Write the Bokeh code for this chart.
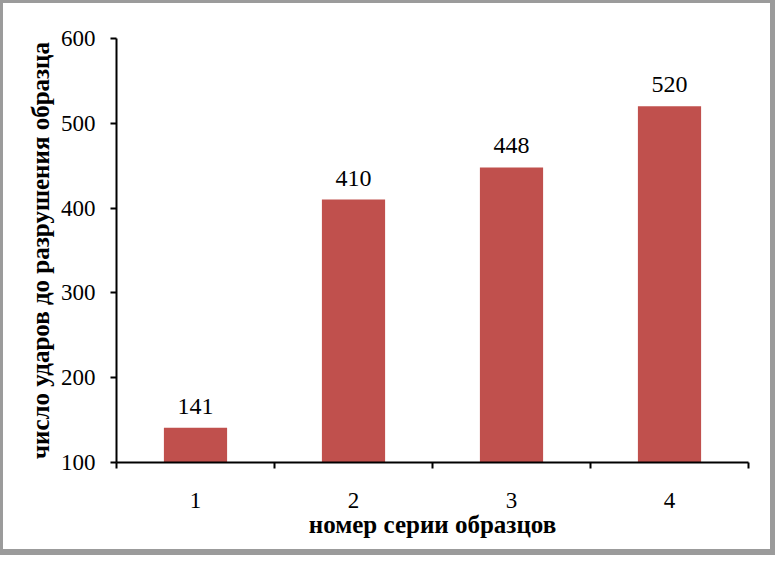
from bokeh.plotting import figure
from bokeh.models import ColumnDataSource, FixedTicker, LabelSet, Range1d
from bokeh.embed import file_html
from bokeh.resources import INLINE

categories = ["1", "2", "3", "4"]
values = [141, 410, 448, 520]
y_ticks = [100, 200, 300, 400, 500, 600]

x_pos = [i + 0.5 for i in range(len(categories))]
source = ColumnDataSource(dict(x=x_pos, top=values, label=[str(v) for v in values]))

FONT = "Liberation Serif"
BAR = "#C0504D"

p = figure(width=775, height=555, output_backend="svg", toolbar_location=None,
           x_range=Range1d(0, len(categories)), y_range=Range1d(100, 600),
           min_border_left=113, min_border_right=30, min_border_top=35, min_border_bottom=96)
p.styles = {"border-style": "solid", "border-color": "#9b9b9b",
            "border-width": "3px 5px 6px 3px"}
p.outline_line_color = None
p.xgrid.grid_line_color = None
p.ygrid.grid_line_color = None

p.vbar(x="x", top="top", bottom=100, width=0.4, source=source,
       fill_color=BAR, line_color=None)

labels = LabelSet(x="x", y="top", text="label", source=source,
                  text_align="center", text_baseline="alphabetic", y_offset=14,
                  text_font=FONT, text_font_size="24px", text_color="black")
p.add_layout(labels)

# x axis
xa = p.xaxis[0]
xa.ticker = FixedTicker(ticks=x_pos, minor_ticks=list(range(len(categories) + 1)))
xa.major_label_overrides = {x: c for x, c in zip(x_pos, categories)}
xa.major_tick_out = 0
xa.major_tick_in = 0
xa.minor_tick_out = 6
xa.minor_tick_in = 0
xa.minor_tick_line_width = 2
xa.minor_tick_line_color = "black"
xa.axis_line_width = 2
xa.axis_line_color = "black"
xa.major_label_text_font = FONT
xa.major_label_text_font_size = "23px"
xa.major_label_text_color = "black"
xa.major_label_standoff = 24
xa.axis_label = "номер серии образцов"
xa.axis_label_text_font = FONT
xa.axis_label_text_font_size = "25px"
xa.axis_label_text_font_style = "bold"
xa.axis_label_text_color = "black"
xa.axis_label_standoff = 0

# y axis
ya = p.yaxis[0]
ya.ticker = FixedTicker(ticks=y_ticks)
ya.major_tick_out = 6
ya.major_tick_in = 0
ya.major_tick_line_width = 2
ya.minor_tick_line_color = None
ya.axis_line_width = 2
ya.axis_line_color = "black"
ya.major_label_text_font = FONT
ya.major_label_text_font_size = "23px"
ya.major_label_text_color = "black"
ya.major_label_standoff = 15
ya.axis_label = "число ударов до разрушения образца"
ya.axis_label_text_font = FONT
ya.axis_label_text_font_size = "25px"
ya.axis_label_text_font_style = "bold"
ya.axis_label_text_color = "black"
ya.axis_label_standoff = 4

open("out.html", "w").write(file_html(p, INLINE))
